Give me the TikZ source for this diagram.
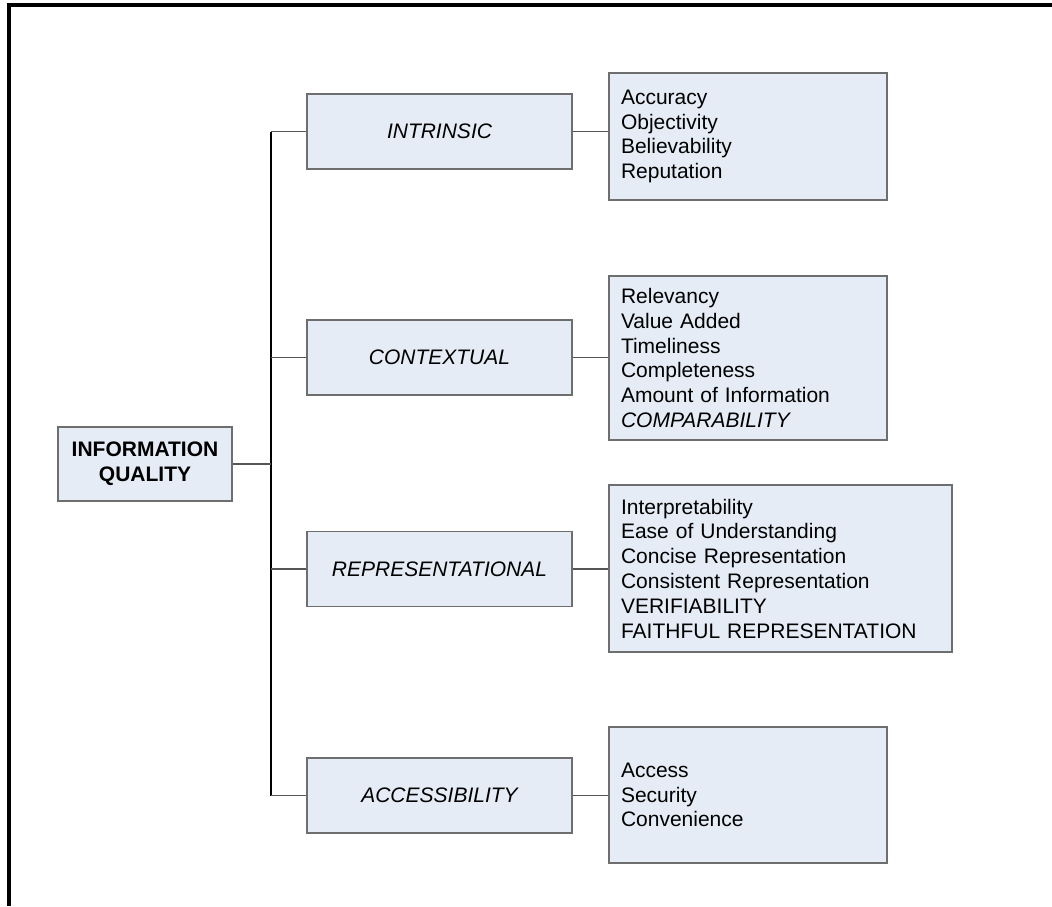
\documentclass[tikz,border=0pt]{standalone}
\usepackage{fontspec}
\setmainfont{Liberation Sans}
\begin{document}
\begin{tikzpicture}[x=1pt,y=-1pt,
  box/.style={draw=boxline,fill=boxfill,line width=1.6pt,inner sep=0pt},
  catbox/.style={box,minimum width=265pt,minimum height=75pt,font=\fontsize{21}{25}\selectfont\itshape},
  listbox/.style={box,inner xsep=12pt,align=left,font=\fontsize{21}{24.8}\selectfont},
  link/.style={draw=linkgray,line width=1.5pt},
  trunk/.style={draw=black,line width=1.5pt}]
\definecolor{boxfill}{HTML}{E6ECF6}
\definecolor{boxline}{HTML}{6E6E6E}
\definecolor{linkgray}{HTML}{555555}
\useasboundingbox (0,0) rectangle (1052,906);

% outer frame (left and top edges)
\draw[line width=4pt] (9,906) -- (9,5) -- (1052,5);

% root
\node[box,minimum width=174pt,minimum height=74pt,align=center,
  font=\fontsize{21}{25}\selectfont\bfseries] (iq) at (145,464) {INFORMATION\\QUALITY};

% dimension boxes
\node[catbox] (intr) at (439.5,131.5) {INTRINSIC};
\node[catbox] (ctx)  at (439.5,357.5) {CONTEXTUAL};
\node[catbox] (rep)  at (439.5,569)   {REPRESENTATIONAL};
\node[catbox] (acc)  at (439.5,795.5) {ACCESSIBILITY};

% attribute lists
\node[listbox,text width=254pt,minimum height=127pt] (lintr) at (748,136.5)
  {Accuracy\\Objectivity\\Believability\\Reputation};
\node[listbox,text width=254pt,minimum height=164pt] (lctx) at (748,358)
  {Relevancy\\Value Added\\Timeliness\\Completeness\\Amount of Information\\\textit{COMPARABILITY}};
\node[listbox,text width=319pt,minimum height=167pt] (lrep) at (780.5,568.5)
  {Interpretability\\Ease of Understanding\\Concise Representation\\Consistent Representation\\VERIFIABILITY\\FAITHFUL REPRESENTATION};
\node[listbox,text width=254pt,minimum height=136pt] (lacc) at (748,795)
  {Access\\Security\\Convenience};

% trunk
\coordinate (ttop) at (271,131.5);
\coordinate (tbot) at (271,795.5);
\draw[trunk] (ttop) -- (tbot);
\draw[link] (iq.east) -- (iq.east -| ttop);

% branches
\foreach \c/\l in {intr/lintr,ctx/lctx,rep/lrep,acc/lacc}{
  \draw[link] (\c.west -| ttop) -- (\c.west);
  \draw[link] (\c.east) -- (\c.east -| \l.west);
}
\end{tikzpicture}
\end{document}
